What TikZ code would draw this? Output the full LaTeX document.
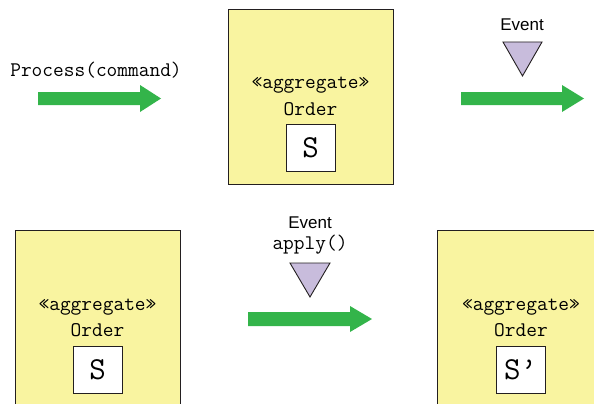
\documentclass[tikz,border=0pt]{standalone}
\usepackage{fontspec}
\setmainfont{Liberation Sans}
\definecolor{aggyellow}{RGB}{249,244,160}
\definecolor{arrgreen}{RGB}{51,180,74}
\definecolor{evpurple}{RGB}{200,188,220}
\definecolor{edge}{RGB}{35,31,32}
\begin{document}
\begin{tikzpicture}[x=1pt,y=-1pt,
  aggbox/.style={fill=aggyellow,draw=edge,line width=0.9pt},
  statebox/.style={fill=white,draw=edge,line width=0.9pt,minimum width=49pt,minimum height=47pt,inner sep=0pt,font=\fontsize{32}{34}\selectfont\ttfamily},
  monotext/.style={font=\fontsize{20.8}{22}\selectfont\ttfamily,inner sep=0pt},
  evtext/.style={font=\fontsize{17}{19}\selectfont,inner sep=0pt},
  blockarrow/.style={fill=arrgreen,draw=none},
  evtri/.style={fill=evpurple,draw=edge,line width=0.9pt,line join=miter}]
\useasboundingbox (0,0) rectangle (594,404);
\clip (0,0) rectangle (594,404);

% top row
\node[monotext] (proc) at (96,70) {Process(command)};
\fill[blockarrow] (38,92) -- (140,92) -- (140,85) -- (161,98.5) -- (140,112) -- (140,105) -- (38,105) -- cycle;

\draw[aggbox] (228,9) rectangle (393,184);
\node[monotext] (agg1) at (310.5,85) {«aggregate»};
\node[monotext] (ord1) at (310.5,109) {Order};
\node[statebox] (s1) at (310.5,148) {S};

\node[evtext] (ev1) at (522,25) {Event};
\draw[evtri] (503,42) -- (542,42) -- (522.5,76) -- cycle;
\fill[blockarrow] (461,92) -- (562,92) -- (562,85) -- (584,98.5) -- (562,112) -- (562,105) -- (461,105) -- cycle;

% bottom row
\draw[aggbox] (15,230) rectangle (180,420);
\node[monotext] (agg2) at (97.5,307) {«aggregate»};
\node[monotext] (ord2) at (97.5,330) {Order};
\node[statebox] (s2) at (97.5,369.5) {S};

\node[evtext] (ev2) at (310,223) {Event};
\node[monotext] (apply) at (310,245) {apply()};
\draw[evtri] (290,263) -- (330,263) -- (310,297) -- cycle;
\fill[blockarrow] (248,312) -- (350,312) -- (350,306) -- (372,319) -- (350,332) -- (350,326) -- (248,326) -- cycle;

\draw[aggbox] (437,230) rectangle (610,420);
\node[monotext] (agg3) at (521,307) {«aggregate»};
\node[monotext] (ord3) at (521,330) {Order};
\node[statebox] (s3) at (520.5,369.5) {S’};
\end{tikzpicture}
\end{document}
